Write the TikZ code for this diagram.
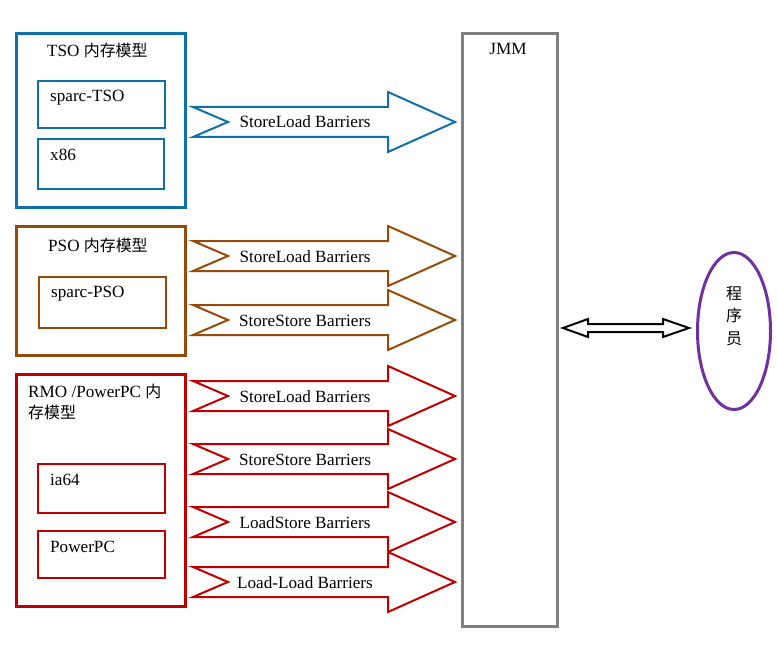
\documentclass[tikz,border=0pt]{standalone}
\usepackage{fontspec}
\setmainfont{Liberation Serif}
\newfontfamily\cjkf{Noto Sans CJK SC}
\newcommand{\cjk}{\cjkf\fontsize{16}{21}\selectfont}
\usetikzlibrary{shapes.geometric}
\definecolor{tsoblue}{RGB}{16,112,170}
\definecolor{psobrown}{RGB}{150,75,10}
\definecolor{rmored}{RGB}{192,0,0}
\definecolor{progpurple}{RGB}{112,48,160}
\definecolor{jmmgray}{RGB}{128,128,128}
\tikzset{
  outerbox/.style={draw, line width=3bp, anchor=north west, inner sep=0pt, outer sep=0pt},
  innerbox/.style={draw, line width=2bp, anchor=north west, inner sep=0pt, outer sep=0pt},
  lbl/.style={font=\fontsize{17.2}{21}\selectfont, inner sep=0pt},
  arrowshape/.style={line width=2bp, fill=white, line join=miter},
}
\newcommand{\blockarrow}[4]{%
  \draw[arrowshape, draw=#2] (193,#1-15) -- (388,#1-15) -- (388,#1-30) -- (455,#1)
     -- (388,#1+30) -- (388,#1+15) -- (193,#1+15) -- (228,#1) -- cycle;
  \node[lbl, anchor=base] (#4) at (305,#1+6) {#3};}
\begin{document}
\begin{tikzpicture}[x=1bp,y=-1bp]
\useasboundingbox (0,0) rectangle (777,657);
% TSO
\node[outerbox, draw=tsoblue, minimum width=169bp, minimum height=173bp] (tso) at (16,34) {};
\node[lbl, anchor=base west] (tsot) at (47,57) {TSO {\cjk 内存模型}};
\node[innerbox, draw=tsoblue, minimum width=127bp, minimum height=47bp] (stso) at (38,81) {};
\node[lbl, anchor=base west] (stsot) at (50,102) {sparc-TSO};
\node[innerbox, draw=tsoblue, minimum width=126bp, minimum height=50bp] (x86) at (38,139) {};
\node[lbl, anchor=base west] (x86t) at (50,160) {x86};
% PSO
\node[outerbox, draw=psobrown, minimum width=169bp, minimum height=129bp] (pso) at (16,226) {};
\node[lbl, anchor=base west] (psot) at (48,251) {PSO {\cjk 内存模型}};
\node[innerbox, draw=psobrown, minimum width=127bp, minimum height=51bp] (spso) at (39,277) {};
\node[lbl, anchor=base west] (spsot) at (51,297) {sparc-PSO};
% RMO
\node[outerbox, draw=rmored, minimum width=169bp, minimum height=232bp] (rmo) at (16,374) {};
\node[lbl, anchor=base west] (rmot1) at (28,397) {RMO /PowerPC {\cjk 内}};
\node[lbl, anchor=base west] (rmot2) at (28,418) {\cjk 存模型};
\node[innerbox, draw=rmored, minimum width=127bp, minimum height=49bp] (ia64) at (38,464) {};
\node[lbl, anchor=base west] (ia64t) at (50,485) {ia64};
\node[innerbox, draw=rmored, minimum width=127bp, minimum height=47bp] (ppc) at (38,531) {};
\node[lbl, anchor=base west] (ppct) at (50,552) {PowerPC};
% JMM
\node[outerbox, draw=jmmgray, minimum width=95bp, minimum height=592bp] (jmm) at (462,34) {};
\node[lbl, anchor=base] (jmmt) at (508,55) {JMM};
% block arrows
\blockarrow{122}{tsoblue}{StoreLoad Barriers}{a1}
\blockarrow{256}{psobrown}{StoreLoad Barriers}{a2}
\blockarrow{320}{psobrown}{StoreStore Barriers}{a3}
\blockarrow{396}{rmored}{StoreLoad Barriers}{a4}
\blockarrow{459}{rmored}{StoreStore Barriers}{a5}
\blockarrow{522}{rmored}{LoadStore Barriers}{a6}
\blockarrow{582}{rmored}{Load-Load Barriers}{a7}
% programmer
\node[ellipse, draw=progpurple, line width=3bp, minimum width=73bp, minimum height=157bp, inner sep=0pt] (prog) at (734,331) {};
\node[align=center, inner sep=0pt, font=\cjkf\fontsize{16}{23}\selectfont] (progt) at (734,316) {程\\序\\员};
% double arrow
\draw[line width=2bp, fill=white, line join=miter] (563,328) -- (588,319) -- (588,324) -- (663,324) -- (663,319) -- (689,328)
  -- (663,337) -- (663,332) -- (588,332) -- (588,337) -- cycle;
\end{tikzpicture}
\end{document}
